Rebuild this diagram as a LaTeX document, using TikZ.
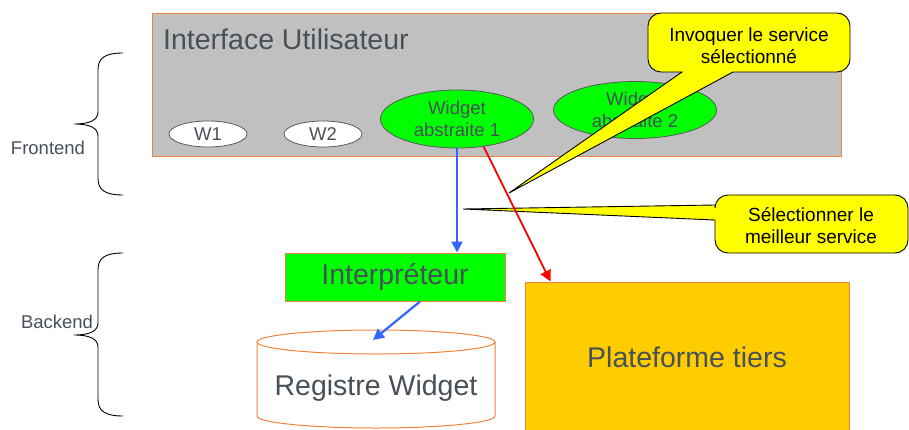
\documentclass[tikz,border=0pt]{standalone}
\usepackage{fontspec}
\setmainfont{Liberation Sans}
\usetikzlibrary{arrows.meta,shapes.geometric,calc}
\definecolor{panelgray}{RGB}{192,192,192}
\definecolor{edgeorange}{RGB}{240,130,64}
\definecolor{widgetgreen}{RGB}{0,255,0}
\definecolor{platyellow}{RGB}{255,204,0}
\definecolor{noteyellow}{RGB}{255,255,0}
\definecolor{linkblue}{RGB}{51,102,255}
\definecolor{linkred}{RGB}{255,0,0}
\definecolor{textgray}{RGB}{72,80,88}
\tikzset{
  bigtext/.style={font=\fontsize{28.5}{32}\selectfont, text=textgray},
  smalltext/.style={font=\fontsize{18.5}{22}\selectfont, text=textgray},
  panel/.style={rectangle, draw=edgeorange, line width=1pt, inner sep=0pt},
  widget/.style={ellipse, draw=black!65, line width=0.8pt, inner sep=0pt,
    align=center, smalltext},
  notebox/.style={fill=noteyellow, draw=black, line width=0.9pt},
  notetext/.style={align=center, font=\fontsize{19}{22}\selectfont, text=black},
  brace/.style={draw=black, line width=0.9pt},
  flow/.style={line width=2.2pt, -{Triangle[length=11pt,width=11pt]}},
}
\begin{document}
\begin{tikzpicture}[x=1pt,y=-1pt]
\useasboundingbox (0,0) rectangle (909,430);
\clip (0,0) rectangle (909,430);

% user interface panel
\node[panel, fill=panelgray, minimum width=689pt, minimum height=143pt]
  (ui) at (496.5,85.5) {};
\node[bigtext, anchor=base west, inner sep=0pt] (uititle) at (163,50) {Interface Utilisateur};

% widgets
\node[widget, fill=white, minimum width=78pt, minimum height=26pt] (w1) at (208,134) {W1};
\node[widget, fill=white, minimum width=78pt, minimum height=26pt] (w2) at (323,134) {W2};
\node[widget, fill=widgetgreen, minimum width=153pt, minimum height=58pt] (wa1) at (457,119) {Widget\\abstraite 1};
\node[widget, fill=widgetgreen, minimum width=163pt, minimum height=57pt] (wa2) at (635,110) {Widget\\abstraite 2};

% backend components
\node[panel, fill=widgetgreen, minimum width=220pt, minimum height=48pt, bigtext]
  (interp) at (395,277) {Interpréteur};
\node[panel, fill=platyellow, minimum width=324pt, minimum height=150pt, bigtext]
  (plat) at (687,357) {Plateforme tiers};

% widget registry (cylinder): body, then the front rim of the top
\filldraw[fill=white, draw=edgeorange, line width=1pt]
  (257,342) -- (257,416)
  .. controls (257,422.6) and (310.3,428) .. (376,428)
  .. controls (441.7,428) and (495,422.6) .. (495,416)
  -- (495,342)
  .. controls (495,335.4) and (441.7,330) .. (376,330)
  .. controls (310.3,330) and (257,335.4) .. cycle;
\draw[draw=edgeorange, line width=1pt]
  (257,342) .. controls (257,348.6) and (310.3,354) .. (376,354)
  .. controls (441.7,354) and (495,348.6) .. (495,342);
\coordinate (regtop) at (373,340);
\node[bigtext] (reg) at (376,388) {Registre Widget};

% layer braces
\draw[brace] (123,53) .. controls (105,53) and (98,58) .. (98,70) -- (98,112)
  .. controls (98,120) and (90,124) .. (74,124)
  .. controls (90,124) and (98,128) .. (98,136) -- (98,178)
  .. controls (98,190) and (105,195) .. (123,195);
\node[smalltext] (front) at (48,148) {Frontend};
\draw[brace] (123,253) .. controls (105,253) and (98,258) .. (98,270) -- (98,323)
  .. controls (98,331) and (90,335) .. (74,335)
  .. controls (90,335) and (98,339) .. (98,347) -- (98,399)
  .. controls (98,411) and (105,416) .. (123,416);
\node[smalltext] (back) at (57,322) {Backend};

% flows
\draw[flow, linkblue] (wa1.south) -- (wa1.south |- interp.north);
\draw[flow, linkblue] ($(interp.south)+(25,0)$) -- (regtop);

% callouts
\coordinate (tipA) at (509,193);
\coordinate (tipB) at (463,209);
\draw[notebox] (682,72) -- (tipA) -- (733,72)
  {[rounded corners=13pt] -- (850,72) -- (850,13) -- (648,13) -- (648,72)} -- cycle;
\node[notetext] (invoke) at (749,46) {Invoquer le service\\sélectionné};
\draw[notebox] (715,220) -- (tipB) -- (715,205)
  {[rounded corners=13pt] -- (715,195) -- (908,195) -- (908,253) -- (715,253)} -- cycle;
\node[notetext] (select) at (811,226) {Sélectionner le\\meilleur service};

\draw[flow, linkred, line width=1.8pt] (wa1.-46) -- ($(plat.north west)+(26,0)$);
\end{tikzpicture}
\end{document}
